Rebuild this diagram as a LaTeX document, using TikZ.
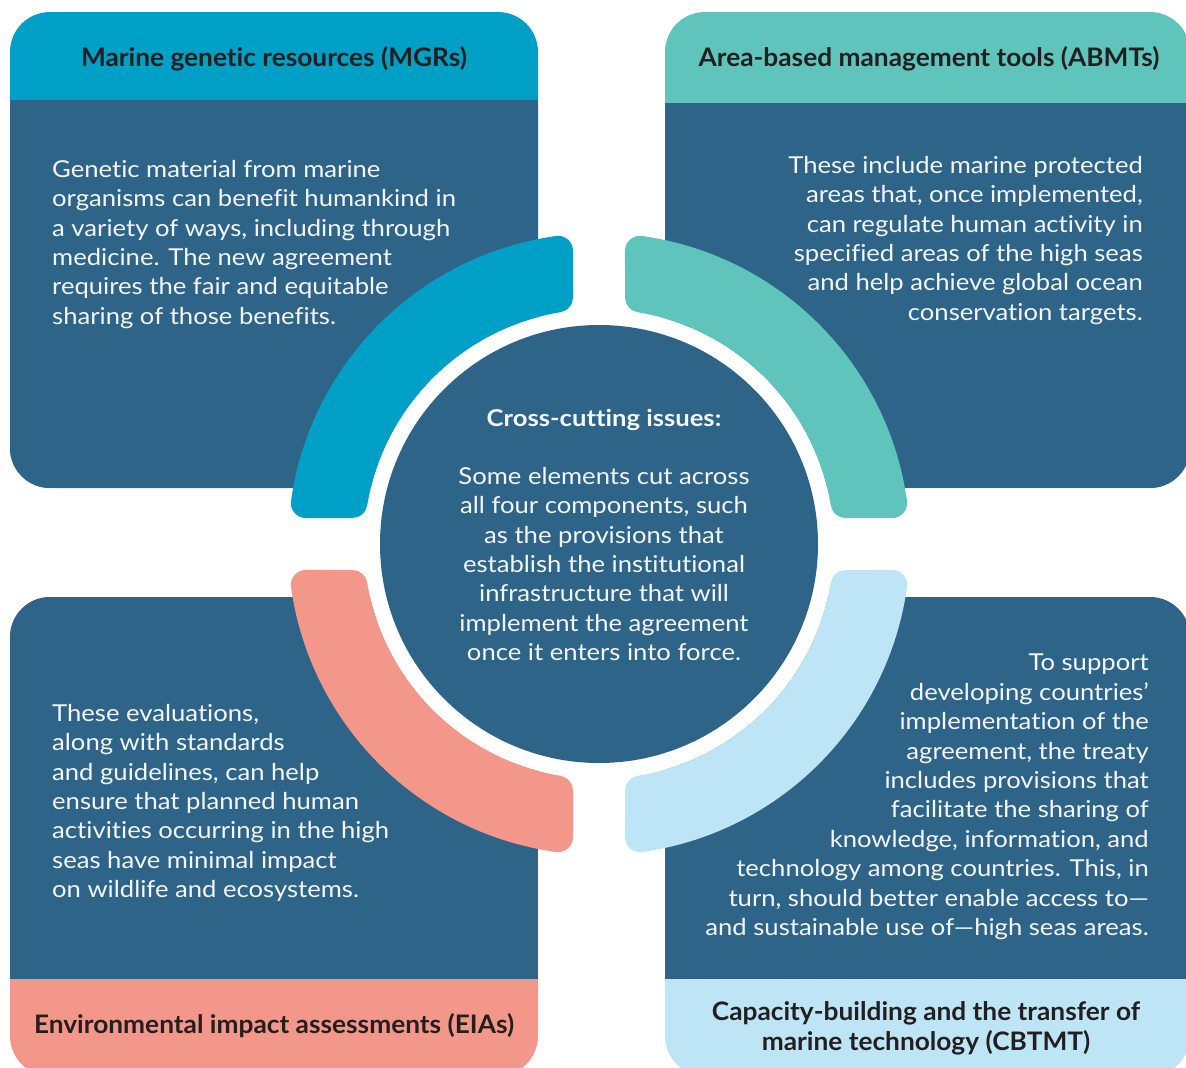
\documentclass[tikz,border=0pt]{standalone}
\usepackage{fontspec}
\setmainfont{Lato}
\newfontfamily\bodyfont{Lato}[FakeStretch=1.1, Ligatures=NoCommon]
\newfontfamily\headfont{Lato}[FakeStretch=1.03, Ligatures=NoCommon]
\definecolor{deep}{HTML}{2D6488}
\definecolor{mgr}{HTML}{009FC6}
\definecolor{abmt}{HTML}{5FC4BB}
\definecolor{eia}{HTML}{F3978A}
\definecolor{cbt}{HTML}{BDE5F5}
\definecolor{ink}{HTML}{231F20}
\definecolor{paper}{HTML}{F4F6F8}

\begin{document}
\begin{tikzpicture}[x=1pt,y=1pt,
  body/.style={text=paper, font=\bodyfont\fontsize{23.3}{29.4}\selectfont, inner sep=0pt},
  head/.style={text=ink, font=\headfont\fontsize{25.5}{29.4}\selectfont\bfseries, inner sep=0pt, align=center},
  band/.style={line width=30pt, line join=round},
]
\useasboundingbox (0,0) rectangle (1186,-1068);
\fill[white] (0,0) rectangle (1186,-1068);

% four component panels: coloured title strip, dark body
\fill[mgr, rounded corners=40pt] (10,-12) rectangle (538,-488);
\begin{scope}
  \clip[rounded corners=40pt] (10,-12) rectangle (538,-488);
  \fill[deep] (10,-100) rectangle (538,-488);
\end{scope}

\fill[abmt, rounded corners=40pt] (665,-12) rectangle (1190,-488);
\begin{scope}
  \clip[rounded corners=40pt] (665,-12) rectangle (1190,-488);
  \fill[deep] (665,-103) rectangle (1190,-488);
\end{scope}

\fill[eia, rounded corners=40pt] (10,-597) rectangle (538,-1076);
\begin{scope}
  \clip[rounded corners=40pt] (10,-597) rectangle (538,-1076);
  \fill[deep] (10,-597) rectangle (538,-979);
\end{scope}

\fill[cbt, rounded corners=40pt] (665,-597) rectangle (1190,-1076);
\begin{scope}
  \clip[rounded corners=40pt] (665,-597) rectangle (1190,-1076);
  \fill[deep] (665,-597) rectangle (1190,-979);
\end{scope}

% white halo behind the hub
\fill[white] (599,-544) circle[radius=235];

% ring of four rounded bands (core sector widened by a round-joined stroke)
\foreach \rot/\col in {0/mgr, -90/abmt, 90/eia, 180/cbt}{
  \begin{scope}[shift={(599,-544)}, rotate=\rot]
    \filldraw[band, \col] (97.96:296) arc[start angle=97.96, end angle=172.04, radius=296]
      -- (170.56:250) arc[start angle=170.56, end angle=99.44, radius=250] -- cycle;
  \end{scope}
}

% hub
\fill[deep] (599,-544) circle[radius=219];

% titles
\node[head] (mgrhead) at (274,-59) {Marine genetic resources (MGRs)};
\node[head] (abmthead) at (929,-59) {Area-based management tools (ABMTs)};
\node[head] (eiahead) at (274,-1026) {Environmental impact assessments (EIAs)};
\node[head] (cbthead) at (926,-1028.5) {Capacity-building and the transfer of\\marine technology (CBTMT)};

% panel texts
\node[body, align=left, anchor=north west] (mgrtext) at (52,-160) {Genetic material from marine\\
organisms can benefit humankind in\\
a variety of ways, including through\\
medicine. The new agreement\\
requires the fair and equitable\\
sharing of those benefits.};

\node[body, align=right, anchor=north east] (abmttext) at (1143,-156) {These include marine protected\\
areas that, once implemented,\\
can regulate human activity in\\
specified areas of the high seas\\
and help achieve global ocean\\
conservation targets.};

\node[body, align=left, anchor=north west] (eiatext) at (52,-704) {These evaluations,\\
along with standards\\
and guidelines, can help\\
ensure that planned human\\
activities occurring in the high\\
seas have minimal impact\\
on wildlife and ecosystems.};

\node[body, align=right, anchor=north east] (cbttext) at (1149,-654) {To support\\
developing countries’\\
implementation of the\\
agreement, the treaty\\
includes provisions that\\
facilitate the sharing of\\
knowledge, information, and\\
technology among countries. This, in\\
turn, should better enable access to—\\
and sustainable use of—high seas areas.};

% hub texts
\node[body, font=\bodyfont\fontsize{23.3}{29.4}\selectfont\bfseries] (hubhead) at (604,-420) {Cross-cutting issues:};
\node[body, align=center, anchor=north] (hubtext) at (604,-467) {Some elements cut across\\
all four components, such\\
as the provisions that\\
establish the institutional\\
infrastructure that will\\
implement the agreement\\
once it enters into force.};
\end{tikzpicture}
\end{document}
